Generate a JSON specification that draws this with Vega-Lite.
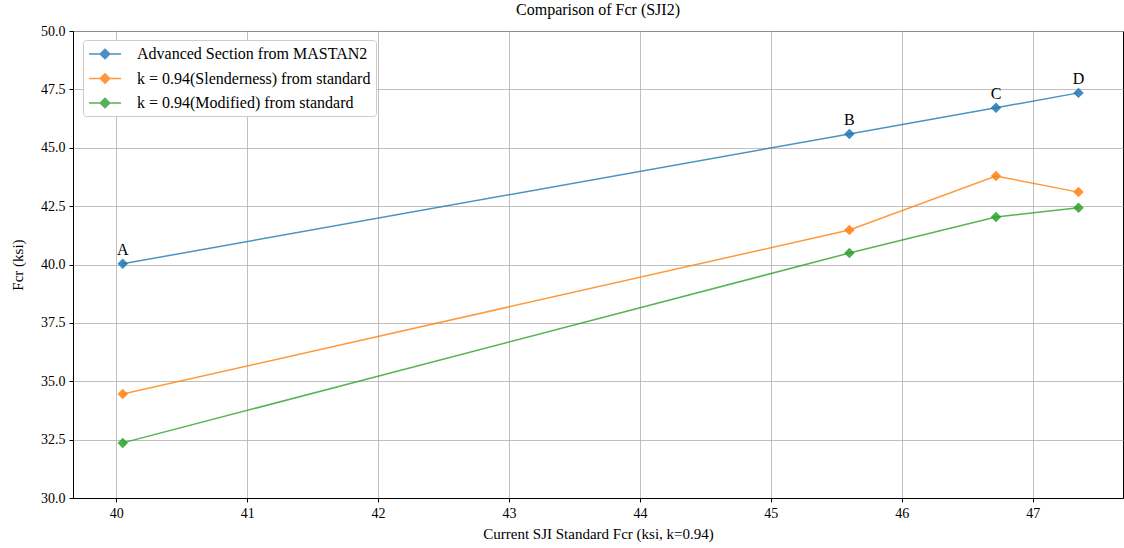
{
  "$schema": "https://vega.github.io/schema/vega-lite/v6.json",
  "width": 1050,
  "height": 467,
  "autosize": "none",
  "padding": {"left": 73, "top": 31, "right": 1, "bottom": 50},
  "background": "white",
  "title": {"text": "Comparison of Fcr (SJI2)", "font": "Liberation Serif", "fontSize": 16, "fontWeight": "normal", "color": "black", "offset": 6},
  "config": {
    "font": "Liberation Serif",
    "view": {"stroke": "black", "strokeWidth": 1},
    "axis": {
      "labelFont": "Liberation Serif", "labelFontSize": 14, "labelColor": "black",
      "titleFont": "Liberation Serif", "titleFontSize": 15, "titleFontWeight": "normal", "titleColor": "black",
      "domainColor": "black", "tickColor": "black", "tickSize": 4,
      "gridColor": "#b0b0b0", "gridWidth": 1, "gridOpacity": 0.8
    },
    "legend": {"labelFont": "Liberation Serif"},
    "text": {"font": "Liberation Serif"}
  },
  "data": {"values": [
    {"series": "Advanced Section from MASTAN2", "x": 40.05, "y": 40.03, "label": "A"},
    {"series": "Advanced Section from MASTAN2", "x": 45.6, "y": 45.59, "label": "B"},
    {"series": "Advanced Section from MASTAN2", "x": 46.72, "y": 46.71, "label": "C"},
    {"series": "Advanced Section from MASTAN2", "x": 47.35, "y": 47.35, "label": "D"},
    {"series": "k = 0.94(Slenderness) from standard", "x": 40.05, "y": 34.45, "label": ""},
    {"series": "k = 0.94(Slenderness) from standard", "x": 45.6, "y": 41.48, "label": ""},
    {"series": "k = 0.94(Slenderness) from standard", "x": 46.72, "y": 43.79, "label": ""},
    {"series": "k = 0.94(Slenderness) from standard", "x": 47.35, "y": 43.1, "label": ""},
    {"series": "k = 0.94(Modified) from standard", "x": 40.05, "y": 32.36, "label": ""},
    {"series": "k = 0.94(Modified) from standard", "x": 45.6, "y": 40.49, "label": ""},
    {"series": "k = 0.94(Modified) from standard", "x": 46.72, "y": 42.03, "label": ""},
    {"series": "k = 0.94(Modified) from standard", "x": 47.35, "y": 42.43, "label": ""}
  ]},
  "encoding": {
    "x": {"field": "x", "type": "quantitative",
      "scale": {"domain": [39.67, 47.69], "nice": false, "zero": false},
      "axis": {"title": "Current SJI Standard Fcr (ksi, k=0.94)", "values": [40, 41, 42, 43, 44, 45, 46, 47], "format": "d", "titlePadding": 6, "labelPadding": 4}},
    "y": {"field": "y", "type": "quantitative",
      "scale": {"domain": [30, 50], "nice": false, "zero": false},
      "axis": {"title": "Fcr (ksi)", "values": [30, 32.5, 35, 37.5, 40, 42.5, 45, 47.5, 50], "format": ".1f", "titlePadding": 15, "labelPadding": 4}}
  },
  "layer": [
    {
      "mark": {"type": "line", "strokeWidth": 1.5, "opacity": 0.8},
      "encoding": {
        "color": {"field": "series", "type": "nominal",
          "scale": {"domain": ["Advanced Section from MASTAN2", "k = 0.94(Slenderness) from standard", "k = 0.94(Modified) from standard"], "range": ["#1f77b4", "#ff7f0e", "#2ca02c"]},
          "legend": {
            "title": null, "orient": "none", "legendX": 10, "legendY": 9,
            "labelFont": "Liberation Serif", "labelFontSize": 16, "labelColor": "black", "labelLimit": 500,
            "symbolType": "M-1,0L3,0M1,-0.6L1.6,0L1,0.6L0.4,0Z",
            "symbolSize": 256, "symbolStrokeWidth": 1.5, "symbolOpacity": 0.8,
            "fillColor": "white", "strokeColor": "#cccccc", "cornerRadius": 3, "padding": 5,
            "rowPadding": 7.5, "labelOffset": 31,
            "encode": {"symbols": {"update": {"fill": {"scale": "color", "field": "value"}}}}
          }}
      }
    },
    {
      "mark": {"type": "point", "shape": "diamond", "filled": true, "size": 110, "opacity": 0.85},
      "encoding": {"color": {"field": "series", "type": "nominal", "legend": null}}
    },
    {
      "mark": {"type": "text", "dy": -14, "font": "Liberation Serif", "fontSize": 16, "color": "black"},
      "encoding": {"text": {"field": "label"}}
    }
  ]
}
